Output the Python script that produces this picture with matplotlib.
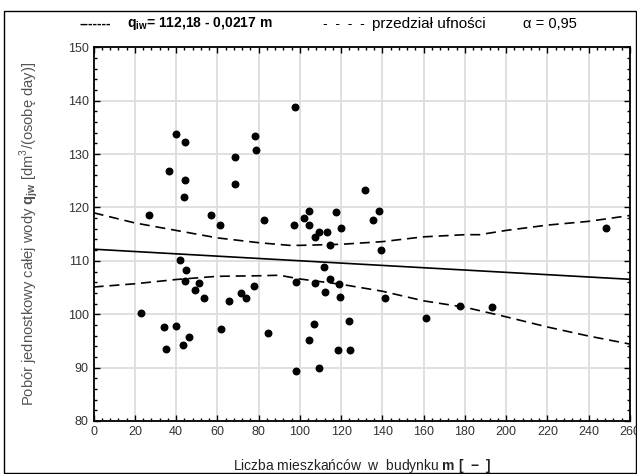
# wykres: pobor wody vs liczba mieszkancow
import numpy as np
import matplotlib.pyplot as plt
from matplotlib.patches import Rectangle
from matplotlib.ticker import MultipleLocator

plt.rcParams['font.family'] = ['Liberation Sans', 'DejaVu Sans']
plt.rcParams['mathtext.fontset'] = 'custom'
plt.rcParams['mathtext.rm'] = 'Liberation Sans'
plt.rcParams['mathtext.bf'] = 'Liberation Sans:bold'

# punkty pomiarowe
m = [23.0, 27.0, 34.3, 34.9, 36.4, 39.8, 39.8, 42.0, 43.5, 43.7, 44.2, 44.2, 44.2,
     45.0, 46.3, 49.2, 51.3, 53.4, 57.1, 61.2, 61.8, 65.5, 68.3, 68.7, 71.2, 73.9,
     77.5, 78.1, 78.9, 82.5, 84.6, 97.2, 97.4, 97.9, 97.9, 102.2, 104.4, 104.5,
     104.5, 106.6, 107.3, 107.3, 109.4, 109.4, 111.5, 112.1, 112.9, 114.6, 114.6,
     117.3, 118.6, 118.7, 119.4, 120.0, 123.6, 124.3, 131.6, 135.6, 138.5, 139.3,
     141.4, 161.2, 177.6, 193.2, 248.5]
q = [100.3, 118.6, 97.6, 93.4, 126.8, 133.7, 97.8, 110.2, 94.3, 121.9, 132.3, 125.2,
     106.2, 108.3, 95.7, 104.6, 105.8, 103.0, 118.6, 116.7, 97.3, 102.5, 124.4, 129.5,
     103.9, 103.1, 105.2, 133.4, 130.7, 117.6, 96.5, 116.7, 138.9, 106.1, 89.4, 118.0,
     95.1, 119.4, 116.7, 98.1, 114.5, 105.8, 115.4, 89.9, 108.8, 104.1, 115.4, 112.9,
     106.6, 119.2, 93.2, 105.7, 103.3, 116.2, 98.7, 93.2, 123.2, 117.7, 119.4, 112.1,
     103.0, 99.3, 101.6, 101.3, 116.2]

# regresja q = 112,18 - 0,0217 m
a0 = 112.18
a1 = -0.0217
m_lin = np.array([0, 260])

# przedzial ufnosci
up_x = [0, 20, 40, 60, 80, 95, 100, 120, 140, 160, 180, 187, 200, 220, 240, 260]
up_y = [119.0, 117.1, 115.7, 114.3, 113.4, 112.9, 112.9, 113.1, 113.6, 114.5, 114.9,
        114.9, 115.7, 116.7, 117.4, 118.5]
lo_x = [0, 20, 40, 60, 80, 90, 100, 120, 140, 160, 180, 200, 220, 240, 260]
lo_y = [105.1, 105.7, 106.5, 107.1, 107.2, 107.3, 106.6, 105.6, 104.3, 102.5, 101.3,
        99.5, 97.6, 95.9, 94.4]

fig = plt.figure(figsize=(6.37, 4.74), dpi=100)
ax = fig.add_axes([0.147, 0.112, 0.842, 0.788])

ax.plot(m_lin, a0 + a1 * m_lin, color='black', lw=1.2)
ax.plot(up_x, up_y, color='black', lw=1.2, dashes=(6, 3.5))
ax.plot(lo_x, lo_y, color='black', lw=1.2, dashes=(6, 3.5))
ax.scatter(m, q, s=22, color='black', zorder=3)

ax.set_xlim(0, 260)
ax.set_ylim(80, 150)
ax.xaxis.set_major_locator(MultipleLocator(20))
ax.xaxis.set_minor_locator(MultipleLocator(4))
ax.yaxis.set_major_locator(MultipleLocator(10))
ax.yaxis.set_minor_locator(MultipleLocator(2))
ax.tick_params(which='both', direction='in', top=True, right=True, colors='black',
               labelcolor='#333333', labelsize=9, width=1)
ax.tick_params(which='major', length=4)
ax.tick_params(which='minor', length=2)
ax.grid(True, which='major', color='#dddddd', lw=1.3)
ax.set_axisbelow(True)
for s in ax.spines.values():
    s.set_linewidth(1.3)

ax.set_xlabel(r'Liczba mieszkańców  w  budynku $\mathbf{m}$ $\mathbf{[\ -\ ]}$',
              fontsize=10, color='#222222', labelpad=14)
ax.set_ylabel(r'Pobór jednostkowy całej wody $\mathbf{q_{jw}}$ [dm$^3$/(osobę day)]',
              fontsize=10.6, color='#555555', labelpad=19)

# legenda u gory
yl = 1 - 24 / 474
fig.text(80 / 637, yl, '-------', fontsize=10, fontweight='bold', va='center')
fig.text(127 / 637, yl, r'$\mathbf{q_{iw}}$= 112,18 - 0,0217 m', fontsize=10,
         fontweight='bold', va='center')
fig.text(323 / 637, yl, '-  -  -  -', fontsize=10, va='center')
fig.text(372 / 637, yl, 'przedział ufności', fontsize=11, va='center')
fig.text(523 / 637, yl, 'α = 0,95', fontsize=10.5, va='center')

# ramka wokol calego rysunku
fig.patches.append(Rectangle((4 / 637, 1 / 474), 632 / 637, 462 / 474, fill=False,
                             lw=1, edgecolor='black', transform=fig.transFigure))

plt.savefig('out.png', dpi=100)
